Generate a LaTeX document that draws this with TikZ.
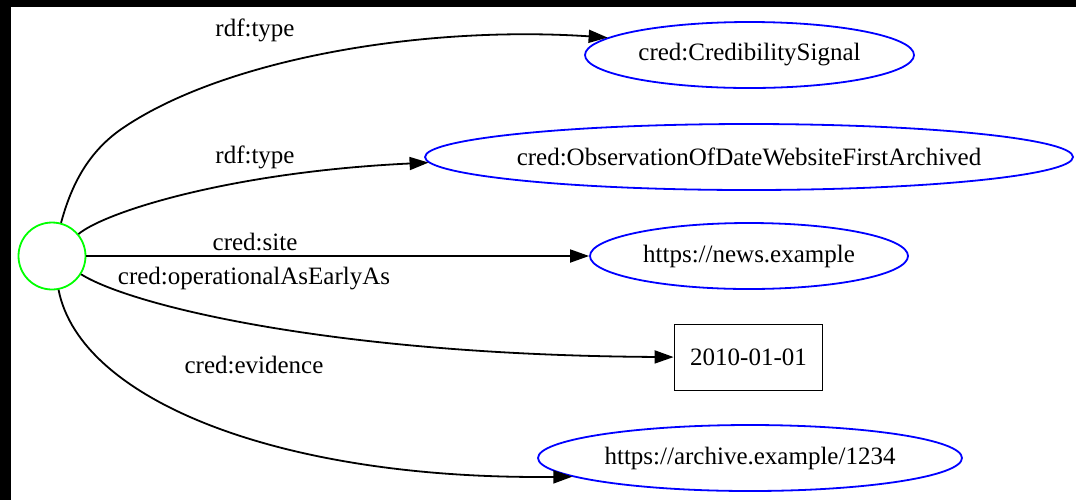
\documentclass[tikz,border=0pt]{standalone}
\usepackage{fontspec}
\setmainfont{Liberation Serif}
\usepackage{tikz}
\usetikzlibrary{arrows.meta,shapes.geometric}
\definecolor{ResBlue}{RGB}{0,0,255}
\definecolor{BlankGreen}{RGB}{0,255,0}

\begin{document}
\begin{tikzpicture}[
    x=0.5pt, y=-0.5pt,
    >={Triangle[length=9.5pt, width=6.5pt]},
    every node/.style={font=\fontsize{12.5}{15}\selectfont},
    blank/.style={circle, draw=BlankGreen, line width=0.9pt,
                  minimum size=33.5pt, inner sep=0pt},
    res/.style={ellipse, draw=ResBlue, line width=0.9pt,
                minimum width=#1, minimum height=33pt, inner sep=0pt},
    res/.default=160pt,
    lit/.style={rectangle, draw=black, line width=0.9pt,
                minimum width=74pt, minimum height=33pt, inner sep=0pt},
    arr/.style={->, line width=0.9pt, color=black},
    elabel/.style={anchor=base, inner sep=0pt},
]
\useasboundingbox (0,0) rectangle (1076,500);

% ── Frame ──
\fill[black] (0,0) rectangle (1076,7);
\fill[black] (0,0) rectangle (11,500);

% ── Blank node ──
\node[blank] (root) at (52,256) {};

% ── Objects ──
\node[res=164.5pt] (sig)  at (749.5,55)  {\makebox[0pt]{cred:CredibilitySignal}};
\node[res=324pt]   (obs)  at (749,157)   {\makebox[0pt]{cred:ObservationOfDateWebsiteFirstArchived}};
\node[res=159pt]   (news) at (749,256)   {\makebox[0pt]{https://news.example}};
\node[lit]         (date) at (748.5,357.5) {2010-01-01};
\node[res=212pt]   (arch) at (750,458)   {\makebox[0pt]{https://archive.example/1234}};

% ── Arrows ──
\draw[arr] (root) .. controls (70,190) and (85,155) .. (120,130)
                  .. controls (220,60) and (420,25) .. (sig.173);
\draw[arr] (root) .. controls (105,212) and (230,172) .. (obs.181);
\draw[arr] (root) -- (news);
\draw[arr] (root) .. controls (130,305) and (330,355) .. (date);
\draw[arr] (root) .. controls (80,400) and (280,480) .. (arch.186);

% ── Edge labels ──
\node[elabel] (ltype1) at (255,36)  {rdf:type};
\node[elabel] (ltype2) at (255,163) {rdf:type};
\node[elabel] (lsite)  at (255,250) {cred:site};
\node[elabel] (lop)    at (254,284) {cred:operationalAsEarlyAs};
\node[elabel] (lev)    at (254,373) {cred:evidence};

\end{tikzpicture}
\end{document}
